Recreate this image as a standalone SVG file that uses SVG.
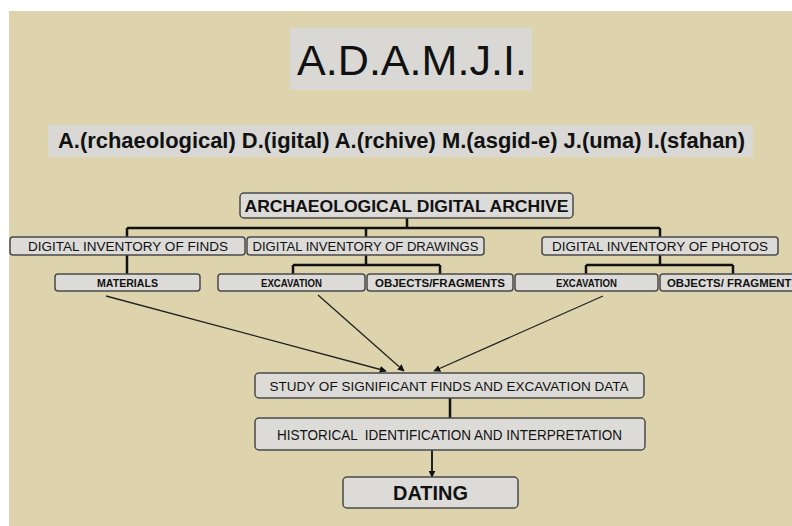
<svg xmlns="http://www.w3.org/2000/svg" width="792" height="526" viewBox="0 0 792 526">
<defs>
<style>
.bx{fill:#dcdbd8;stroke:#4a4a4a;stroke-width:1.5}
.t{font-family:"Liberation Sans",Arial,sans-serif;fill:#111;text-anchor:middle}
.b{font-weight:bold}
.ln{fill:none;stroke:#111;stroke-width:2.5}
.ar{fill:none;stroke:#222;stroke-width:1.3}
</style>
<marker id="ah" viewBox="0 0 10 10" refX="9" refY="5" markerWidth="7" markerHeight="7" orient="auto" markerUnits="userSpaceOnUse">
<path d="M0,0 L10,5 L0,10 z" fill="#111"/>
</marker>
</defs>
<rect x="0" y="0" width="792" height="526" fill="#ffffff"/>
<rect x="9" y="11" width="783" height="515" fill="#ddd4ae"/>

<g id="title">
<rect x="290" y="28" width="242" height="62" fill="#d9d8d4"/>
<text class="t" x="412" y="75" font-size="43" textLength="230" lengthAdjust="spacingAndGlyphs">A.D.A.M.J.I.</text>
</g>
<g id="subtitle">
<rect x="48" y="125" width="705" height="32" fill="#d9d8d4"/>
<text class="t b" x="401.5" y="148" font-size="22" textLength="687" lengthAdjust="spacingAndGlyphs">A.(rchaeological) D.(igital) A.(rchive) M.(asgid-e) J.(uma) I.(sfahan)</text>
</g>

<g id="connectors">
<path class="ln" d="M407,218 V228 M127,228 H660 M127,228 V237 M366,228 V237 M660,228 V237"/>
<path class="ln" d="M127,255 V274"/>
<path class="ln" d="M366,255 V265 M293,265 H440 M293,265 V274 M440,265 V274"/>
<path class="ln" d="M660,255 V265 M586,265 H733 M586,265 V274 M733,265 V274"/>
<path class="ar" d="M106,296 L386,371" marker-end="url(#ah)"/>
<path class="ar" d="M318,295 L404,371" marker-end="url(#ah)"/>
<path class="ar" d="M603,296 L434,371" marker-end="url(#ah)"/>
<path class="ln" d="M450,398 V418"/>
<path class="ar" style="stroke-width:2" d="M432,450 V477" marker-end="url(#ah)"/>
</g>

<g id="archive">
<rect class="bx" x="240" y="193" width="333" height="25" rx="4"/>
<text class="t b" x="406.5" y="211.5" font-size="16.5" textLength="324" lengthAdjust="spacingAndGlyphs">ARCHAEOLOGICAL DIGITAL ARCHIVE</text>
</g>
<g id="finds">
<rect class="bx" x="10" y="237" width="235" height="18" rx="3"/>
<text class="t" x="128" y="250.5" font-size="13.4" textLength="200" lengthAdjust="spacingAndGlyphs">DIGITAL INVENTORY OF FINDS</text>
</g>
<g id="drawings">
<rect class="bx" x="247" y="237" width="237" height="18" rx="3"/>
<text class="t" x="365.5" y="250.5" font-size="13.4" textLength="226" lengthAdjust="spacingAndGlyphs">DIGITAL INVENTORY OF DRAWINGS</text>
</g>
<g id="photos">
<rect class="bx" x="542" y="237" width="236" height="18" rx="3"/>
<text class="t" x="660" y="250.5" font-size="13.4" textLength="216" lengthAdjust="spacingAndGlyphs">DIGITAL INVENTORY OF PHOTOS</text>
</g>
<g id="materials">
<rect class="bx" x="55" y="274" width="145" height="17" rx="3"/>
<text class="t b" x="127.5" y="286.5" font-size="10.5" textLength="61" lengthAdjust="spacingAndGlyphs">MATERIALS</text>
</g>
<g id="excavation1">
<rect class="bx" x="218" y="274" width="147" height="17" rx="3"/>
<text class="t b" x="291.5" y="286.5" font-size="10.5" textLength="61" lengthAdjust="spacingAndGlyphs">EXCAVATION</text>
</g>
<g id="objects1">
<rect class="bx" x="367" y="274" width="146" height="17" rx="3"/>
<text class="t b" x="440" y="286.5" font-size="10.5" textLength="130" lengthAdjust="spacingAndGlyphs">OBJECTS/FRAGMENTS</text>
</g>
<g id="excavation2">
<rect class="bx" x="515" y="274" width="143" height="17" rx="3"/>
<text class="t b" x="586.5" y="286.5" font-size="10.5" textLength="61" lengthAdjust="spacingAndGlyphs">EXCAVATION</text>
</g>
<g id="objects2">
<rect class="bx" x="660" y="274" width="146" height="17" rx="3"/>
<text class="t b" x="733" y="286.5" font-size="10.5" textLength="132" lengthAdjust="spacingAndGlyphs">OBJECTS/ FRAGMENTS</text>
</g>
<g id="study">
<rect class="bx" x="255" y="373" width="389" height="25" rx="4"/>
<text class="t" x="449" y="391" font-size="13.5" textLength="359" lengthAdjust="spacingAndGlyphs">STUDY OF SIGNIFICANT FINDS AND EXCAVATION DATA</text>
</g>
<g id="historical">
<rect class="bx" x="255" y="418" width="390" height="32" rx="4"/>
<text class="t" x="449.5" y="440" font-size="14" textLength="345" lengthAdjust="spacingAndGlyphs" xml:space="preserve">HISTORICAL  IDENTIFICATION AND INTERPRETATION</text>
</g>
<g id="dating">
<rect class="bx" x="343" y="477" width="175" height="31" rx="4"/>
<text class="t b" x="430.5" y="500" font-size="20" textLength="75" lengthAdjust="spacingAndGlyphs">DATING</text>
</g>
</svg>
